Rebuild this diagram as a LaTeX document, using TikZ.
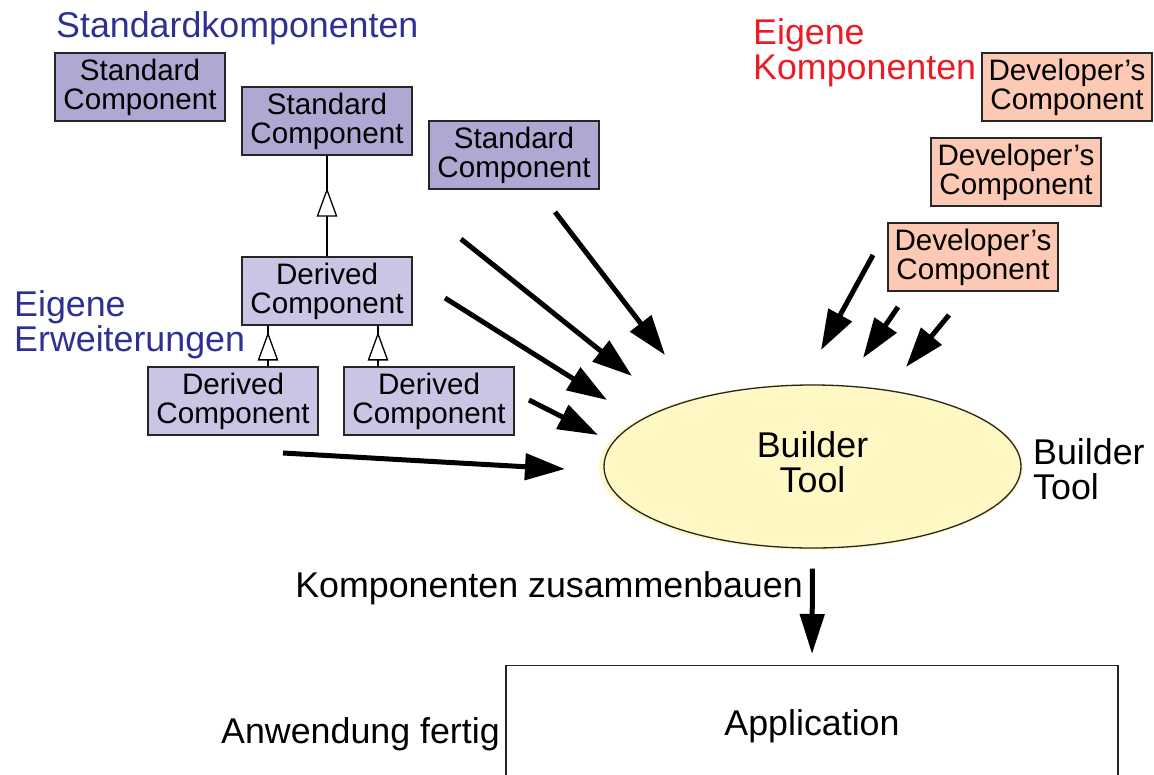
\documentclass[tikz,border=0pt]{standalone}
\usepackage{fontspec}
\setmainfont{Liberation Sans}
\usetikzlibrary{arrows.meta,shapes.geometric,decorations.markings}
\definecolor{stdfill}{HTML}{ADA9D3}
\definecolor{derfill}{HTML}{C8C6E4}
\definecolor{devfill}{HTML}{FCCAB4}
\definecolor{toolfill}{HTML}{FFF8C4}
\definecolor{stdblue}{HTML}{2E3192}
\definecolor{devred}{HTML}{ED1C24}
\tikzset{
  comp/.style={draw=black!85, line width=1.5pt, minimum width=170pt, minimum height=68pt,
    inner sep=0pt, align=center, font=\fontsize{29.6}{29}\selectfont},
  stdbox/.style={comp, fill=stdfill},
  derbox/.style={comp, fill=derfill},
  devbox/.style={comp, fill=devfill},
  lbl/.style={inner sep=0pt, align=left, font=\fontsize{35.8}{35}\selectfont},
  bigarrow/.style={line width=5pt, -{Triangle[length=40pt,width=26pt]}},
  inherit/.style={line width=1.3pt, postaction={decorate, decoration={markings,
    mark=at position #1 with {\draw[fill=white, line width=1.3pt, line join=miter]
      (0pt,0pt) -- (-26pt,9.5pt) -- (-26pt,-9.5pt) -- cycle;}}}}
}
\begin{document}
\begin{tikzpicture}[x=1pt,y=-1pt]
\useasboundingbox (0,0) rectangle (1154,774);

% headings
\node[lbl, text=stdblue, anchor=base west] (hstd) at (56,37) {Standardkomponenten};
\node[lbl, text=stdblue, anchor=west] (hext) at (14,325) {Eigene\\Erweiterungen};
\node[lbl, text=devred, anchor=west] (hdev) at (753,53) {Eigene\\Komponenten};

% standard components
\node[stdbox] (s1) at (140,87) {Standard\\Component};
\node[stdbox] (s2) at (327,121) {Standard\\Component};
\node[stdbox] (s3) at (514,155) {Standard\\Component};
% derived components
\node[derbox] (d0) at (327,291) {Derived\\Component};
\node[derbox] (dl) at (233,401) {Derived\\Component};
\node[derbox] (dr) at (429,401) {Derived\\Component};
% developer components
\node[devbox] (p1) at (1067,87) {Developer’s\\Component};
\node[devbox] (p2) at (1016,172) {Developer’s\\Component};
\node[devbox] (p3) at (973,257) {Developer’s\\Component};

% inheritance
\draw[inherit=0.66] (d0.north) -- (s2.south);
\draw[inherit=0.80] ([xshift=35pt]dl.north) -- ([xshift=35pt]dl.north |- d0.south);
\draw[inherit=0.80] ([xshift=-51pt]dr.north) -- ([xshift=-51pt]dr.north |- d0.south);

% builder tool
\fill[toolfill] (811,467) ellipse [x radius=212, y radius=83];
\node[ellipse, draw=black!85, line width=1.3pt, fill=toolfill, minimum width=417pt,
  minimum height=163pt, inner sep=0pt, align=center, text depth=8pt,
  font=\fontsize{35.8}{35}\selectfont]
  (bt) at (812.5,466.5) {Builder\\Tool};
\node[lbl, anchor=west] (btlbl) at (1033,469) {Builder\\Tool};

% incoming arrows
\coordinate (a1s) at (283,453); \coordinate (a1e) at (565,469);
\coordinate (a2s) at (529,400); \coordinate (a2e) at (598,435);
\coordinate (a3s) at (445,298); \coordinate (a3e) at (607,400);
\coordinate (a4s) at (461,239); \coordinate (a4e) at (632,376);
\coordinate (a5s) at (555,212); \coordinate (a5e) at (665,355);
\coordinate (b1s) at (873,255); \coordinate (b1e) at (821,350);
\coordinate (b2s) at (898,307); \coordinate (b2e) at (863,358);
\coordinate (b3s) at (949,315); \coordinate (b3e) at (906,367);
\foreach \n in {a1,a2,a3,a4,a5,b1,b2,b3}
  \draw[bigarrow] (\n s) -- (\n e);

% application
\node[draw=black!85, line width=1.3pt, minimum width=612pt, minimum height=122pt,
  anchor=north, inner sep=0pt, font=\fontsize{35.8}{35}\selectfont] (app) at (812,665) {Application};
\draw[line width=5pt, -{Triangle[length=40pt,width=24pt]}, shorten <=20pt, shorten >=11pt]
  (bt.south) -- (app.north);
\node[lbl, anchor=base east] (zus) at (803,597) {Komponenten zusammenbauen};
\node[lbl, anchor=base east] (fertig) at (500,743) {Anwendung fertig};
\end{tikzpicture}
\end{document}
